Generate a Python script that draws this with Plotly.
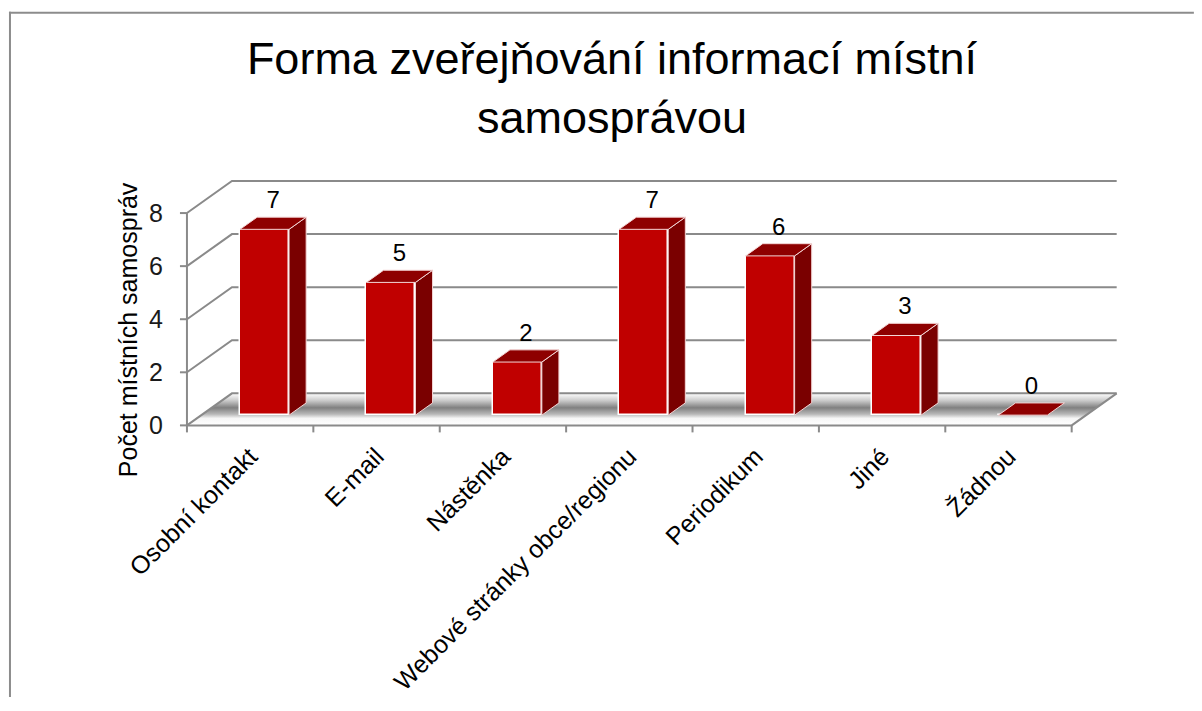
import plotly.graph_objects as go

# ---------------- data ----------------
categories = ["Osobní kontakt", "E-mail", "Nástěnka", "Webové stránky obce/regionu",
              "Periodikum", "Jiné", "Žádnou"]
values = [7, 5, 2, 7, 6, 3, 0]
y_ticks = [0, 2, 4, 6, 8]
title_text = "Forma zveřejňování informací místní<br>samosprávou"
y_title = "Počet místních samospráv"

# ---------------- layout geometry (pixels / pseudo-3D projection) ----------------
OFF = 8.0              # page body margin compensation
W, H = int(1202 - 2 * OFF), int(711 - 2 * OFF - 6)
AXIS_PX_X = 187.0 - OFF
AXIS_PX_Y = 425.0 - OFF
TOP_PX = 176.0 - OFF
PX_PER_X = 126.4
PX_PER_Y = 26.5
DX = 45.0 / PX_PER_X
DY = 32.0 / PX_PER_Y
F0, F1 = 0.32, 0.70
BAR_W = 49.0 / PX_PER_X
TICK_X = 7.0 / PX_PER_X
TICK_Y = 7.0 / PX_PER_Y

X0 = -0.5
XN = len(categories) - 0.5
x_range = [X0 - 0.15, XN + DX + 0.05]
y_range = [-0.4, (AXIS_PX_Y - TOP_PX) / PX_PER_Y]

plot_left = AXIS_PX_X - (X0 - x_range[0]) * PX_PER_X
plot_w = (x_range[1] - x_range[0]) * PX_PER_X
plot_bottom = AXIS_PX_Y + (0 - y_range[0]) * PX_PER_Y
plot_h = (y_range[1] - y_range[0]) * PX_PER_Y
m_l = plot_left
m_r = W - plot_left - plot_w
m_b = H - plot_bottom
m_t = plot_bottom - plot_h

FONT = "Liberation Sans, Arial, sans-serif"
GRID = "#8a8a8a"

fig = go.Figure()

# ---- floor (main subplot, below bars) ----
fig.add_trace(go.Scatter(
    x=[X0, XN, XN + DX, X0 + DX, X0],
    y=[0, 0, DY, DY, 0],
    mode="lines", fill="toself",
    line=dict(width=0, color="rgba(0,0,0,0)"),
    fillgradient=dict(type="vertical",
                      colorscale=[[0.0, "#ffffff"], [0.22, "#f6f6f6"], [0.35, "#b8b8b8"],
                                  [0.55, "#808080"], [0.78, "#cccccc"], [1.0, "#ffffff"]]),
    hoverinfo="skip", showlegend=False))

# ---- walls, gridlines, axis lines, tick marks ----
gx, gy = [], []
for t in y_ticks:
    gx += [X0, X0 + DX, XN + DX, None]
    gy += [t, t + DY, t + DY, None]
    gx += [X0 - TICK_X, X0, None]
    gy += [t, t, None]
gx += [X0, X0, None]
gy += [0, max(y_ticks), None]
gx += [X0, XN, XN + DX, None]
gy += [0, 0, DY, None]
for k in range(len(categories) + 1):
    b = X0 + k
    gx += [b, b, None]
    gy += [0, -TICK_Y, None]
fig.add_trace(go.Scatter(x=gx, y=gy, mode="lines",
                         line=dict(color=GRID, width=2),
                         hoverinfo="skip", showlegend=False))

# ---- bars (overlay subplot, above floor) ----
centers = [i + F0 * DX for i in range(len(categories))]
fig.add_trace(go.Bar(
    x=centers, y=values, base=F0 * DY, width=BAR_W,
    marker=dict(color="#C00000", line=dict(color="#ffffff", width=1.5)),
    xaxis="x2", yaxis="y2", hoverinfo="skip", showlegend=False))

dd = (F1 - F0) * DX
sx, sy, tx, ty = [], [], [], []
for c, v in zip(centers, values):
    a = c - BAR_W / 2
    b = c + BAR_W / 2
    if v > 0:
        sx += [b, b, b + dd, b + dd, b, None]
        sy += [F0 * DY, v + F0 * DY, v + F1 * DY, F1 * DY, F0 * DY, None]
    tx += [a, b, b + dd, a + dd, a, None]
    ty += [v + F0 * DY, v + F0 * DY, v + F1 * DY, v + F1 * DY, v + F0 * DY, None]

fig.add_trace(go.Scatter(x=sx, y=sy, mode="lines", fill="toself",
                         fillcolor="#7A0000", line=dict(color="#f3d6d6", width=1),
                         xaxis="x2", yaxis="y2", hoverinfo="skip", showlegend=False))
fig.add_trace(go.Scatter(x=tx, y=ty, mode="lines", fill="toself",
                         fillcolor="#8E0000", line=dict(color="#f3d6d6", width=1),
                         xaxis="x2", yaxis="y2", hoverinfo="skip", showlegend=False))

# ---- data labels ----
fig.add_trace(go.Scatter(
    x=[c + dd / 2 for c in centers],
    y=[v + F1 * DY + 0.57 for v in values],
    text=[str(v) for v in values], mode="text", textposition="middle center",
    textfont=dict(family=FONT, size=24, color="#000000"),
    cliponaxis=False, xaxis="x2", yaxis="y2", hoverinfo="skip", showlegend=False))

# ---- border (top and left edges of the chart frame) ----
def px_x(p):
    return (p - OFF - plot_left) / plot_w

def px_y(p):
    return (plot_bottom - (p - OFF)) / plot_h

frame = dict(color="#8c8c8c", width=2)
fig.add_shape(type="line", xref="paper", yref="paper",
              x0=px_x(9), x1=px_x(W + OFF), y0=px_y(13), y1=px_y(13), line=frame, layer="below")
fig.add_shape(type="line", xref="paper", yref="paper",
              x0=px_x(10), x1=px_x(10), y0=px_y(12), y1=px_y(H + OFF), line=frame, layer="below")

# y title as rotated annotation
fig.add_annotation(text=y_title, textangle=-90, xref="paper", yref="paper",
                   x=px_x(128), y=px_y(329), showarrow=False,
                   xanchor="center", yanchor="middle",
                   font=dict(family=FONT, size=25, color="#000000"))

fig.update_layout(
    width=W, height=H,
    margin=dict(l=m_l, r=m_r, t=m_t, b=m_b, pad=0, autoexpand=False),
    paper_bgcolor="#ffffff", plot_bgcolor="rgba(0,0,0,0)",
    title=dict(text=title_text, x=(612 - OFF) / W, xref="container", xanchor="center",
               y=1 - (74 - OFF) / H, yref="container", yanchor="middle",
               font=dict(family=FONT, size=45, color="#000000")),
    xaxis=dict(range=x_range, tickmode="array",
               tickvals=list(range(len(categories))), ticktext=categories,
               tickangle=-45, ticks="", showgrid=False, zeroline=False, showline=False,
               automargin=False,
               tickfont=dict(family=FONT, size=25, color="#000000")),
    yaxis=dict(range=y_range, tickmode="array", tickvals=y_ticks,
               ticks="", showgrid=False, zeroline=False, showline=False,
               ticklabelstandoff=4, automargin=False,
               tickfont=dict(family=FONT, size=25, color="#1a1a1a")),
    xaxis2=dict(range=x_range, overlaying="x", visible=False),
    yaxis2=dict(range=y_range, overlaying="y", visible=False),
    bargap=0, showlegend=False,
)

fig.write_html("out.html")
